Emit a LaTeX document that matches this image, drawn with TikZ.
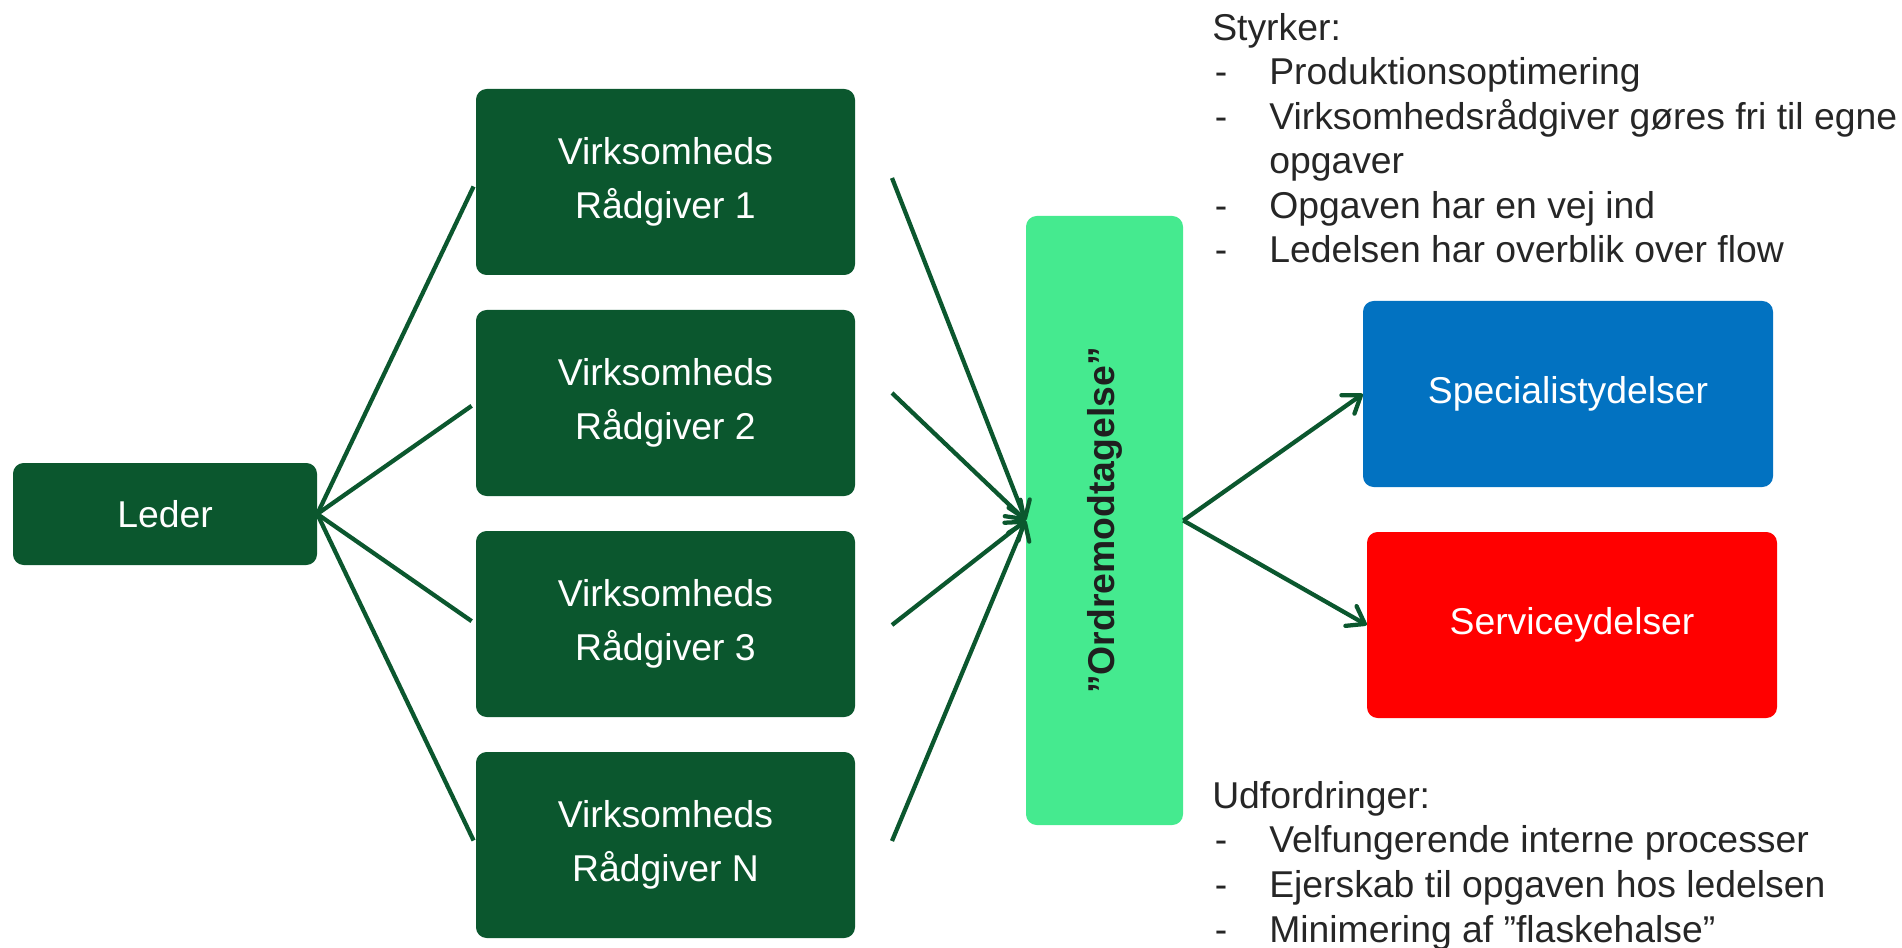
\documentclass[tikz,border=0pt]{standalone}
\usepackage{fontspec}
\usepackage{graphicx}
\setmainfont{Liberation Sans}
\usetikzlibrary{arrows.meta,calc}

\definecolor{leadgreen}{RGB}{11,87,46}
\definecolor{ordergreen}{RGB}{69,234,143}
\definecolor{specblue}{RGB}{2,114,193}
\definecolor{servred}{RGB}{255,0,0}
\definecolor{listgray}{RGB}{38,38,38}

\begin{document}
\begin{tikzpicture}[x=0.75pt,y=0.75pt,yscale=-1,xscale=1,
    box/.style={rounded corners=8pt, inner sep=0pt, align=center, text=white,
        font=\fontsize{28}{40}\selectfont},
    advisor/.style={box, fill=leadgreen, minimum width=284.25pt, minimum height=139.5pt},
    link/.style={draw=leadgreen, line width=3.2pt},
    flow/.style={link, -{Straight Barb[length=12pt,width=17pt,round]}},
    notes/.style={anchor=base west, inner sep=0pt, align=left, text=listgray,
        font=\fontsize{28}{33.4}\selectfont}]
                %set diagram to 1902 x 948
                \useasboundingbox (0,0) rectangle (1902,948);

                %Leder
                \node [box, fill=leadgreen, minimum width=228pt, minimum height=76.5pt] (leder) at (165,514) {Leder};

                %Raadgivere
                \node [advisor] (adv1) at (665.5,182) {Virksomheds\\Rådgiver 1};
                \node [advisor] (adv2) at (665.5,403) {Virksomheds\\Rådgiver 2};
                \node [advisor] (adv3) at (665.5,624) {Virksomheds\\Rådgiver 3};
                \node [advisor] (adv4) at (665.5,845) {Virksomheds\\Rådgiver N};

                %Ordremodtagelse
                \node [box, fill=ordergreen, minimum width=117.75pt, minimum height=456.75pt, text=black!88] (ordre) at (1104.5,520.5) {\rotatebox{90}{\bfseries ”Ordremodtagelse”}};

                %Ydelser
                \node [box, fill=specblue, minimum width=307.5pt, minimum height=139.5pt] (special) at (1568,394) {Specialistydelser};
                \node [box, fill=servred, minimum width=307.5pt, minimum height=139.5pt] (service) at (1572,625) {Serviceydelser};

                %Straight Lines
                \draw [link, shorten >=3.75pt] (leder.east) -- (adv1.west);
                \draw [link, shorten >=3.75pt] (leder.east) -- (adv2.west);
                \draw [link, shorten >=3.75pt] (leder.east) -- (adv3.west);
                \draw [link, shorten >=3.75pt] (leder.east) -- (adv4.west);

                %Arrows
                \coordinate (in1) at (892,178);
                \coordinate (in2) at (892,393);
                \coordinate (in3) at (892,625);
                \coordinate (in4) at (892,841);
                \draw [flow] (in1) -- (ordre.west);
                \draw [flow] (in2) -- (ordre.west);
                \draw [flow] (in3) -- (ordre.west);
                \draw [flow] (in4) -- (ordre.west);
                \draw [flow] (ordre.east) -- (special.west);
                \draw [flow] (ordre.east) -- (service.west);

                % Text Node (base = last line)
                \node [notes] (styrker) at (1212,263) {Styrker:\\
                    \makebox[42.75pt][l]{\hspace{2pt}-}Produktionsoptimering\\
                    \makebox[42.75pt][l]{\hspace{2pt}-}Virksomhedsrådgiver gøres fri til egne\\
                    \hspace*{42.75pt}opgaver\\
                    \makebox[42.75pt][l]{\hspace{2pt}-}Opgaven har en vej ind\\
                    \makebox[42.75pt][l]{\hspace{2pt}-}Ledelsen har overblik over flow};
                % Text Node (base = last line)
                \node [notes] (udfordringer) at (1212,942) {Udfordringer:\\
                    \makebox[42.75pt][l]{\hspace{2pt}-}Velfungerende interne processer\\
                    \makebox[42.75pt][l]{\hspace{2pt}-}Ejerskab til opgaven hos ledelsen\\
                    \makebox[42.75pt][l]{\hspace{2pt}-}Minimering af ”flaskehalse”};
\end{tikzpicture}
\end{document}
